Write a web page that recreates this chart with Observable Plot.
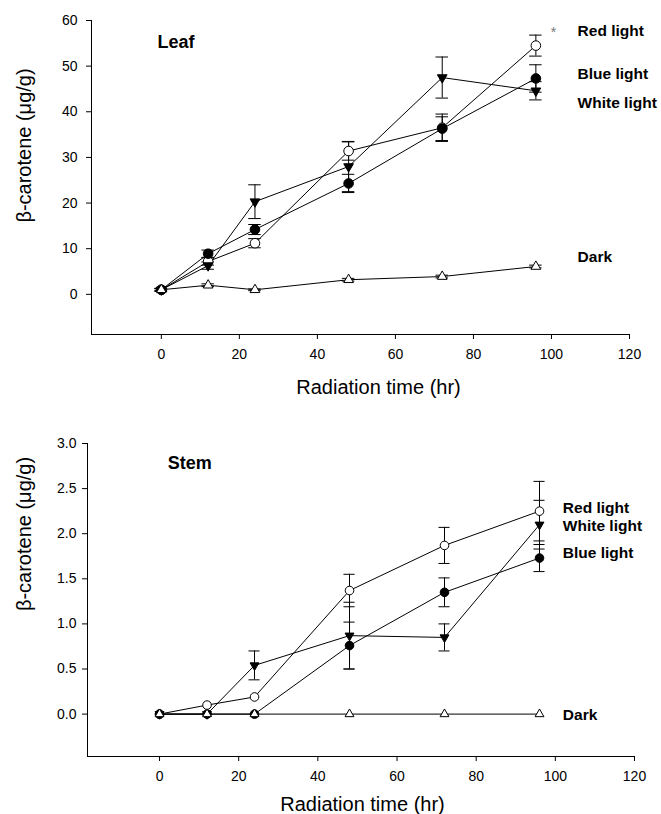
<!DOCTYPE html>
<html><head><meta charset="utf-8">
<script src="https://cdn.jsdelivr.net/npm/d3@7"></script>
<script src="https://cdn.jsdelivr.net/npm/@observablehq/plot@0.6"></script>
<style>
body{margin:0;background:#fff;font-family:"Liberation Sans",Arial,Helvetica,sans-serif}
#chart svg{display:block;overflow:visible}
</style>
</head><body><div id="chart"></div>
<script>
// ---- data ----
const hours = [0, 12, 24, 48, 72, 96];
const xTicks = [0, 20, 40, 60, 80, 100, 120];

const leafRed    = [1.0, 7.2, 11.2, 31.4, 36.5, 54.5];
const leafRedErr = [0.3, 0.8, 1.0, 2.0, 3.0, 2.3];
const leafBlue    = [1.0, 8.9, 14.2, 24.3, 36.3, 47.3];
const leafBlueErr = [0.3, 0.8, 1.1, 2.0, 2.6, 3.0];
const leafWhite    = [1.0, 6.3, 20.3, 28.0, 47.5, 44.6];
const leafWhiteErr = [0.3, 0.8, 3.7, 5.5, 4.5, 2.0];
const leafDark    = [1.0, 2.0, 1.0, 3.2, 3.9, 6.1];
const leafDarkErr = [0.2, 0.3, 0.2, 0.3, 0.3, 0.3];
const leafYTicks = [0, 10, 20, 30, 40, 50, 60];

const stemRed    = [0, 0.10, 0.19, 1.37, 1.87, 2.25];
const stemRedErr = [0, 0.01, 0.01, 0.18, 0.20, 0.33];
const stemBlue    = [0, 0, 0, 0.76, 1.35, 1.73];
const stemBlueErr = [0, 0, 0, 0.26, 0.16, 0.15];
const stemWhite    = [0, 0, 0.54, 0.87, 0.85, 2.10];
const stemWhiteErr = [0, 0, 0.16, 0.37, 0.15, 0.27];
const stemDark    = [0, 0, 0, 0, 0, 0];
const stemDarkErr = [0, 0, 0, 0, 0, 0];
const stemYTicks = [0, 0.5, 1.0, 1.5, 2.0, 2.5, 3.0];

const treatments = ["Red light", "Blue light", "White light", "Dark"];

// ---- symbols ----
const sqrt3 = Math.sqrt(3);
const triangleDown = {
  draw(ctx, size) {
    const y = -Math.sqrt(size / (sqrt3 * 3));
    ctx.moveTo(0, -y * 2);
    ctx.lineTo(-sqrt3 * y, y);
    ctx.lineTo(sqrt3 * y, y);
    ctx.closePath();
  }
};
const styles = {
  "Red light":   {symbol: "circle", fill: "white", rk: "c"},
  "Blue light":  {symbol: "circle", fill: "black", rk: "c"},
  "White light": {symbol: triangleDown, fill: "black", rk: "t"},
  "Dark":        {symbol: "triangle", fill: "white", rk: "t"}
};

function panel(o) {
  const rows = [];
  o.series.forEach((s, k) => s.values.forEach((v, i) =>
    rows.push({t: treatments[k], x: hours[i], y: v, e: s.err[i]})));
  const eb = rows.filter(r => r.e > 0.02);
  const cap = o.cap;
  const marks = [
    Plot.ruleX([o.xDomain[0]], {stroke: "black", strokeWidth: 1}),
    Plot.ruleY([o.yDomain[0]], {stroke: "black", strokeWidth: 1}),
    Plot.axisX({ticks: xTicks, tickSize: 5, tickPadding: 10, fontSize: 14, label: null}),
    Plot.axisY({ticks: o.yTicks, tickSize: 5, tickPadding: o.ytp, fontSize: 14, label: null, tickFormat: o.fmt}),
    Plot.lineY(rows, {x: "x", y: "y", z: "t", stroke: "black", strokeWidth: 1}),
    Plot.ruleX(eb, {x: "x", y1: r => r.y - r.e, y2: r => r.y + r.e, stroke: "black", strokeWidth: 1}),
    Plot.ruleY(eb, {y: r => r.y + r.e, x1: r => r.x - cap, x2: r => r.x + cap, stroke: "black", strokeWidth: 1}),
    Plot.ruleY(eb, {y: r => r.y - r.e, x1: r => r.x - cap, x2: r => r.x + cap, stroke: "black", strokeWidth: 1})
  ];
  treatments.forEach(t => {
    const s = styles[t];
    marks.push(Plot.dot(rows.filter(r => r.t === t), {
      x: "x", y: "y", symbol: s.symbol, fill: s.fill, stroke: "black", strokeWidth: 1,
      r: s.rk === "c" ? o.rc : o.rt
    }));
  });
  marks.push(Plot.text(o.labels, {x: "x", y: "y", text: "text", textAnchor: "start",
    fontWeight: "bold", fontSize: 15.5, fill: "black"}));
  marks.push(Plot.text([o.name], {x: () => o.nameX, y: () => o.nameY, textAnchor: "start",
    fontWeight: "bold", fontSize: 18, fill: "black"}));
  if (o.star) marks.push(Plot.text(["*"], {x: () => o.star[0], y: () => o.star[1], fontSize: 14, fill: "#777"}));
  marks.push(Plot.text(["Radiation time (hr)"], {frameAnchor: "bottom", textAnchor: "middle", lineAnchor: "middle",
    dx: o.xtDx, dy: o.xtDy, fontSize: 20, fill: "black"}));
  marks.push(Plot.text(["\u03b2-carotene (\u03bcg/g)"], {frameAnchor: "left", textAnchor: "middle", lineAnchor: "middle",
    dx: o.ytDx, dy: o.ytDy, rotate: -90, fontSize: 20, fill: "black"}));
  return Plot.plot({
    width: 661, height: o.height,
    marginTop: o.mt, marginBottom: o.mb, marginLeft: o.ml, marginRight: o.mr,
    style: {fontFamily: '"Liberation Sans", Arial, sans-serif', background: "white", color: "black", overflow: "visible"},
    x: {domain: o.xDomain, axis: null},
    y: {domain: o.yDomain, axis: null},
    marks
  });
}

const chart = document.getElementById("chart");
chart.append(panel({
  height: 400, mt: 20, mb: 66, ml: 91, mr: 32, ytp: 9,
  xDomain: [-17.9, 120], yDomain: [-8.8, 60], yTicks: leafYTicks, fmt: d3.format("d"),
  series: [
    {values: leafRed, err: leafRedErr},
    {values: leafBlue, err: leafBlueErr},
    {values: leafWhite, err: leafWhiteErr},
    {values: leafDark, err: leafDarkErr}
  ],
  cap: 1.6, rc: 4.8, rt: 3.6,
  labels: [
    {text: "Red light", x: 106.7, y: 57.7},
    {text: "Blue light", x: 106.7, y: 48.2},
    {text: "White light", x: 106.7, y: 41.9},
    {text: "Dark", x: 106.7, y: 8.1}
  ],
  name: "Leaf", nameX: -1.0, nameY: 55.2, star: [100.5, 57.4],
  xtDx: 18, xtDy: 53, ytDx: -67, ytDy: -32
}));
chart.append(panel({
  height: 414, mt: 43, mb: 58, ml: 87, mr: 27, ytp: 6,
  xDomain: [-18.2, 120], yDomain: [-0.47, 3.0], yTicks: stemYTicks, fmt: d3.format(".1f"),
  series: [
    {values: stemRed, err: stemRedErr},
    {values: stemBlue, err: stemBlueErr},
    {values: stemWhite, err: stemWhiteErr},
    {values: stemDark, err: stemDarkErr}
  ],
  cap: 1.4, rc: 4.3, rt: 3.3,
  labels: [
    {text: "Red light", x: 101.9, y: 2.28},
    {text: "White light", x: 101.9, y: 2.08},
    {text: "Blue light", x: 101.9, y: 1.79},
    {text: "Dark", x: 101.9, y: -0.01}
  ],
  name: "Stem", nameX: 2.1, nameY: 2.78, star: null,
  xtDx: 1.5, xtDy: 48, ytDx: -63, ytDy: -66
}));
</script>
</body></html>
